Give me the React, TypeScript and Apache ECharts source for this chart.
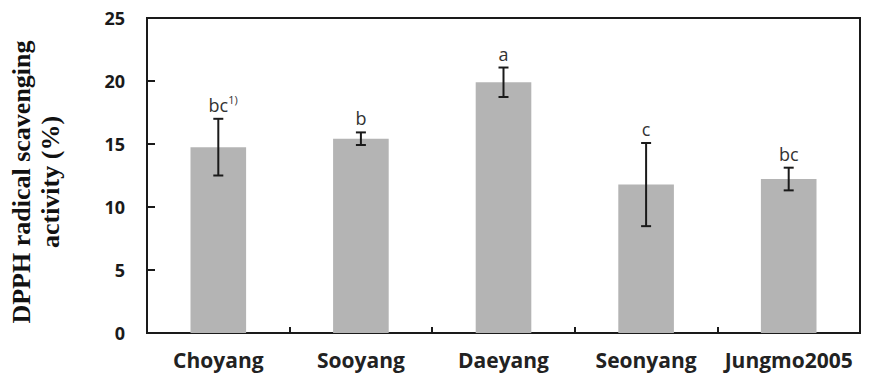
import React, { useEffect, useRef } from "react";
import * as echarts from "echarts";

const categories = ["Choyang", "Sooyang", "Daeyang", "Seonyang", "Jungmo2005"];
const means = [14.75, 15.42, 19.9, 11.78, 12.22];
const errors = [2.25, 0.5, 1.17, 3.3, 0.9];
const letters = ["bc", "b", "a", "c", "bc"];
const footnotes = ["1)", "", "", "", ""];
const yTicks = { min: 0, max: 25, interval: 5 };
const yTitle = "DPPH radical scavenging\nactivity (%)";

export default function App() {
  const ref = useRef<HTMLDivElement>(null);
  useEffect(() => {
    if (!ref.current) return;
    const chart = echarts.init(ref.current, null, { renderer: "svg" });
    const errData = categories.map((_, i) => [i, means[i], errors[i]]);
    chart.setOption({
      animation: false,
      backgroundColor: "#ffffff",
      grid: {
        left: 147,
        right: 11,
        top: 18,
        bottom: 41,
        show: true,
        borderColor: "#1a1a1a",
        borderWidth: 2,
      },
      xAxis: {
        type: "category",
        data: categories,
        axisLine: { show: true, lineStyle: { color: "#1a1a1a", width: 2 } },
        axisTick: { show: true, inside: true, length: 6, lineStyle: { color: "#1a1a1a", width: 2 } },
        axisLabel: {
          margin: 16,
          fontSize: 21,
          fontWeight: "bold",
          fontFamily: "Open Sans",
          color: "#222",
          interval: 0,
        },
      },
      yAxis: {
        type: "value",
        min: yTicks.min,
        max: yTicks.max,
        interval: yTicks.interval,
        splitLine: { show: false },
        axisLine: { show: true, lineStyle: { color: "#1a1a1a", width: 2 } },
        axisTick: { show: true, inside: true, length: 8, lineStyle: { color: "#1a1a1a", width: 2 } },
        axisLabel: {
          margin: 22,
          fontSize: 18,
          fontWeight: "bold",
          fontFamily: "Open Sans",
          color: "#1a1a1a",
        },
      },
      graphic: [
        {
          type: "text",
          x: 36,
          y: 182,
          rotation: Math.PI / 2,
          style: {
            text: yTitle,
            align: "center",
            verticalAlign: "middle",
            font: 'bold 26px "Liberation Serif"',
            lineHeight: 29,
            fill: "#111",
          },
        },
      ],
      series: [
        {
          type: "bar",
          data: means,
          barWidth: "39%",
          itemStyle: { color: "#b4b4b4" },
          silent: true,
          z: 2,
        },
        {
          type: "custom",
          data: errData,
          silent: true,
          z: 5,
          renderItem: (params: any, api: any) => {
            const i = api.value(0);
            const m = api.value(1);
            const e = api.value(2);
            const top = api.coord([i, m + e]);
            const bot = api.coord([i, m - e]);
            const x = top[0];
            const cap = 5;
            const ls = { stroke: "#1a1a1a", lineWidth: 2 };
            const children: any[] = [
              { type: "line", z2: 10, shape: { x1: x, y1: top[1], x2: x, y2: bot[1] }, style: ls },
              { type: "line", z2: 10, shape: { x1: x - cap, y1: top[1], x2: x + cap, y2: top[1] }, style: ls },
              { type: "line", z2: 10, shape: { x1: x - cap, y1: bot[1], x2: x + cap, y2: bot[1] }, style: ls },
              {
                type: "text",
                x: x,
                y: top[1] - 5,
                style: {
                  text: letters[params.dataIndex],
                  align: "center",
                  verticalAlign: "bottom",
                  font: '18px "Open Sans"',
                  fill: "#333",
                },
              },
            ];
            const fn = footnotes[params.dataIndex];
            if (fn) {
              children.push({
                type: "text",
                x: x + 10,
                y: top[1] - 14,
                style: {
                  text: fn,
                  align: "left",
                  verticalAlign: "bottom",
                  font: '11px "Open Sans"',
                  fill: "#333",
                },
              });
            }
            return { type: "group", children };
          },
        },
      ],
    });
    return () => chart.dispose();
  }, []);
  return (
    <div
      ref={ref}
      style={{ position: "fixed", left: 0, top: 0, width: 871, height: 374 }}
    />
  );
}
